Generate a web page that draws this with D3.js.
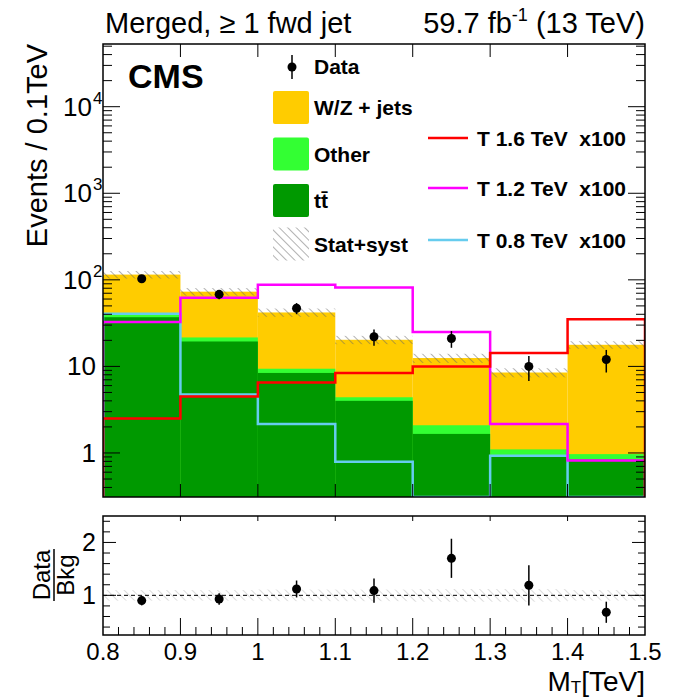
<!DOCTYPE html>
<html>
<head>
<meta charset="utf-8">
<script src="https://cdn.jsdelivr.net/npm/d3@7"></script>
<style>
  html, body { margin: 0; padding: 0; background: #fff; }
  svg { display: block; font-family: "Liberation Sans", Arial, Helvetica, sans-serif; }
  .pre { white-space: pre; }
</style>
</head>
<body>
<svg id="chart" width="675" height="697"></svg>
<script>
// ---- Binned M_T distribution (events per 0.1 TeV) ----
const binEdges   = [0.8, 0.9, 1.0, 1.1, 1.2, 1.3, 1.4, 1.5];
const ttbar      = [37, 19.4, 8.4, 4.0, 1.66, 0.92, 0.84];
const other      = [4.0, 2.2, 1.0, 0.4, 0.43, 0.18, 0.13];
const wzJets     = [74, 51.4, 32.6, 15.9, 10.4, 7.4, 16.8];
const bkgRelUnc  = [0.10, 0.10, 0.11, 0.11, 0.12, 0.12, 0.10];
const dataCounts = [103, 68, 47, 22, 21, 10, 12];
const dataErr    = [10.1, 8.2, 6.9, 4.7, 4.6, 3.2, 3.5];
// Signal templates, scaled x100
const sigT16 = [2.5, 4.5, 6.5, 8.4, 10, 14.3, 35];
const sigT12 = [32.5, 62, 87.5, 81.6, 24.9, 2.16, 0.82];
const sigT08 = [40.5, 4.75, 2.16, 0.79, 0.2, 0.93, 0.2];
// Data / background
const ratioVals = [0.90, 0.93, 1.12, 1.09, 1.70, 1.19, 0.68];
const ratioErr  = [0.09, 0.11, 0.16, 0.23, 0.37, 0.38, 0.20];

const xTicks = [0.8, 0.9, 1.0, 1.1, 1.2, 1.3, 1.4, 1.5];
const xTickLabels = ["0.8", "0.9", "1", "1.1", "1.2", "1.3", "1.4", "1.5"];
const yDecades = [1, 10, 100, 1000, 10000];
const ratioTicks = [1, 2];

const colors = { wz: "#ffcc00", other: "#33ff33", tt: "#009900",
                 t16: "#ff0000", t12: "#ff00ff", t08: "#66ccee" };

const svg = d3.select("#chart");
const L = 103, R = 645, T = 44, B = 497, RT = 516, RB = 635;

const x  = d3.scaleLinear().domain([0.8, 1.5]).range([L, R]);
const y  = d3.scaleLog().domain([0.31, 53000]).range([B, T]);
const yr = d3.scaleLinear().domain([0.25, 2.5]).range([RB, RT]);
const yc = v => Math.max(T, Math.min(B, y(Math.max(v, 1e-3))));

// hatch patterns
const defs = svg.append("defs");
function hatch(id, color, w) {
  const p = defs.append("pattern").attr("id", id).attr("patternUnits", "userSpaceOnUse")
    .attr("width", 6).attr("height", 6).attr("patternTransform", "rotate(-45)");
  p.append("line").attr("x1", 0).attr("y1", 0).attr("x2", 0).attr("y2", 6)
    .attr("stroke", color).attr("stroke-width", w);
}
hatch("hatchMain", "#666", 1);
hatch("hatchRatio", "#bbb", 1);
defs.append("clipPath").attr("id", "clipMain").append("rect")
  .attr("x", L).attr("y", T).attr("width", R - L).attr("height", B - T);
defs.append("clipPath").attr("id", "clipRatio").append("rect")
  .attr("x", L).attr("y", RT).attr("width", R - L).attr("height", RB - RT);

const bins = d3.range(binEdges.length - 1).map(i => {
  const tt = ttbar[i], ot = tt + other[i], tot = ot + wzJets[i];
  return { i, x0: binEdges[i], x1: binEdges[i + 1], tt, ot, tot };
});

// ---- main panel ----
const main = svg.append("g").attr("clip-path", "url(#clipMain)");
const layers = [["tot", colors.wz], ["ot", colors.other], ["tt", colors.tt]];
layers.forEach(([k, c]) => {
  main.selectAll(null).data(bins).join("rect")
    .attr("x", d => x(d.x0)).attr("width", d => x(d.x1) - x(d.x0))
    .attr("y", d => yc(d[k])).attr("height", d => B - yc(d[k]))
    .attr("fill", c);
});
// stat+syst band
main.selectAll(null).data(bins).join("rect")
  .attr("x", d => x(d.x0)).attr("width", d => x(d.x1) - x(d.x0))
  .attr("y", d => yc(d.tot * (1 + bkgRelUnc[d.i])))
  .attr("height", d => yc(d.tot * (1 - bkgRelUnc[d.i])) - yc(d.tot * (1 + bkgRelUnc[d.i])))
  .attr("fill", "url(#hatchMain)");

// signal step lines
function stepPath(vals) {
  let p = `M${x(binEdges[0])},${B}`;
  vals.forEach((v, i) => {
    p += `L${x(binEdges[i])},${yc(v)}L${x(binEdges[i + 1])},${yc(v)}`;
  });
  p += `L${x(binEdges[binEdges.length - 1])},${B}`;
  return p;
}
[[sigT08, colors.t08], [sigT12, colors.t12], [sigT16, colors.t16]].forEach(([v, c]) => {
  main.append("path").attr("d", stepPath(v)).attr("fill", "none")
    .attr("stroke", c).attr("stroke-width", 2.5);
});

// data points
const dpts = main.selectAll(null).data(bins).join("g");
dpts.append("line")
  .attr("x1", d => x((d.x0 + d.x1) / 2)).attr("x2", d => x((d.x0 + d.x1) / 2))
  .attr("y1", d => yc(dataCounts[d.i] + dataErr[d.i]))
  .attr("y2", d => yc(dataCounts[d.i] - dataErr[d.i]))
  .attr("stroke", "#000").attr("stroke-width", 1.5);
dpts.append("circle")
  .attr("cx", d => x((d.x0 + d.x1) / 2)).attr("cy", d => yc(dataCounts[d.i]))
  .attr("r", 4.5).attr("fill", "#000");

// main axes ticks
const minorLog = [];
[0.1, 1, 10, 100, 1000, 10000].forEach(dec => {
  for (let m = 2; m <= 9; m++) {
    const v = dec * m;
    if (v > 0.31 && v < 53000) minorLog.push(v);
  }
});
const axG = svg.append("g");
function yTicks(side) {
  const sx = side === "L" ? L : R, dir = side === "L" ? 1 : -1;
  axG.selectAll(null).data(yDecades).join("line")
    .attr("x1", sx).attr("x2", sx + dir * 17)
    .attr("y1", d => y(d)).attr("y2", d => y(d))
    .attr("stroke", "#000").attr("stroke-width", 1);
  axG.selectAll(null).data(minorLog).join("line")
    .attr("x1", sx).attr("x2", sx + dir * 9)
    .attr("y1", d => y(d)).attr("y2", d => y(d))
    .attr("stroke", "#000").attr("stroke-width", 1);
}
yTicks("L"); yTicks("R");
axG.selectAll(null).data(xTicks.slice(1, -1)).join("line")
  .attr("x1", d => x(d)).attr("x2", d => x(d)).attr("y1", B).attr("y2", B - 13)
  .attr("stroke", "#000").attr("stroke-width", 1);
axG.selectAll(null).data(xTicks.slice(1, -1)).join("line")
  .attr("x1", d => x(d)).attr("x2", d => x(d)).attr("y1", T).attr("y2", T + 13)
  .attr("stroke", "#000").attr("stroke-width", 1);

// y labels
const yl = svg.append("g").attr("font-size", 26).attr("text-anchor", "end");
yDecades.forEach(d => {
  if (d < 100) {
    yl.append("text").attr("x", 96).attr("y", y(d) + 9).text(d === 1 ? "1" : "10");
  } else {
    yl.append("text").attr("x", 92).attr("y", y(d) + 9).text("10");
    yl.append("text").attr("x", 93).attr("y", y(d) - 3).attr("font-size", 17)
      .attr("text-anchor", "start").text(String(Math.round(Math.log10(d))));
  }
});

svg.append("rect").attr("x", L).attr("y", T).attr("width", R - L).attr("height", B - T)
  .attr("fill", "none").attr("stroke", "#000").attr("stroke-width", 1.5);

// ---- ratio panel ----
const rp = svg.append("g").attr("clip-path", "url(#clipRatio)");
rp.selectAll(null).data(bins).join("rect")
  .attr("x", d => x(d.x0)).attr("width", d => x(d.x1) - x(d.x0))
  .attr("y", d => yr(1 + bkgRelUnc[d.i])).attr("height", d => yr(1 - bkgRelUnc[d.i]) - yr(1 + bkgRelUnc[d.i]))
  .attr("fill", "url(#hatchRatio)");
rp.append("line").attr("x1", L).attr("x2", R).attr("y1", yr(1)).attr("y2", yr(1))
  .attr("stroke", "#000").attr("stroke-width", 1).attr("stroke-dasharray", "4,3");
const rpts = rp.selectAll(null).data(bins).join("g");
rpts.append("line")
  .attr("x1", d => x((d.x0 + d.x1) / 2)).attr("x2", d => x((d.x0 + d.x1) / 2))
  .attr("y1", d => yr(ratioVals[d.i] + ratioErr[d.i])).attr("y2", d => yr(ratioVals[d.i] - ratioErr[d.i]))
  .attr("stroke", "#000").attr("stroke-width", 1.5);
rpts.append("circle")
  .attr("cx", d => x((d.x0 + d.x1) / 2)).attr("cy", d => yr(ratioVals[d.i]))
  .attr("r", 4.5).attr("fill", "#000");

const ratioMinor = d3.range(0.4, 2.45, 0.2).filter(v => Math.abs(v - 1) > 0.01 && Math.abs(v - 2) > 0.01);
[[L, 1], [R, -1]].forEach(([sx, dir]) => {
  axG.selectAll(null).data(ratioTicks).join("line")
    .attr("x1", sx).attr("x2", sx + dir * 13).attr("y1", d => yr(d)).attr("y2", d => yr(d))
    .attr("stroke", "#000");
  axG.selectAll(null).data(ratioMinor).join("line")
    .attr("x1", sx).attr("x2", sx + dir * 7).attr("y1", d => yr(d)).attr("y2", d => yr(d))
    .attr("stroke", "#000");
});
const xMinor = d3.range(0.82, 1.5, 0.02).filter(v => Math.abs(v * 10 - Math.round(v * 10)) > 0.01);
axG.selectAll(null).data(xTicks.slice(1, -1)).join("line")
  .attr("x1", d => x(d)).attr("x2", d => x(d)).attr("y1", RB).attr("y2", RB - 17).attr("stroke", "#000");
axG.selectAll(null).data(xMinor).join("line")
  .attr("x1", d => x(d)).attr("x2", d => x(d)).attr("y1", RB).attr("y2", RB - 8).attr("stroke", "#000");
axG.selectAll(null).data(xTicks.slice(1, -1)).join("line")
  .attr("x1", d => x(d)).attr("x2", d => x(d)).attr("y1", RT).attr("y2", RT + 5).attr("stroke", "#000");

svg.append("rect").attr("x", L).attr("y", RT).attr("width", R - L).attr("height", RB - RT)
  .attr("fill", "none").attr("stroke", "#000").attr("stroke-width", 1.5);

svg.append("g").attr("font-size", 25).attr("text-anchor", "end")
  .selectAll(null).data(ratioTicks).join("text")
  .attr("x", 96).attr("y", d => yr(d) + 9).text(d => d);
svg.append("g").attr("font-size", 24).attr("text-anchor", "middle")
  .selectAll(null).data(xTicks).join("text")
  .attr("x", d => x(d)).attr("y", 660).text((d, i) => xTickLabels[i]);

// axis titles
const xt = svg.append("text").attr("x", R).attr("y", 691).attr("text-anchor", "end").attr("font-size", 28);
xt.append("tspan").text("M");
xt.append("tspan").attr("font-size", 17).attr("dy", 2).text("T");
xt.append("tspan").attr("dy", -2).text("[TeV]");

svg.append("text").attr("transform", "translate(47,44) rotate(-90)")
  .attr("text-anchor", "end").attr("font-size", 29).text("Events / 0.1TeV");

const rl = svg.append("g").attr("transform", "translate(0,575) rotate(-90)").attr("font-size", 24)
  .attr("text-anchor", "middle");
rl.append("text").attr("x", 0).attr("y", 50).text("Data");
rl.append("line").attr("x1", -26).attr("x2", 26).attr("y1", 54).attr("y2", 54).attr("stroke", "#000").attr("stroke-width", 1.5);
rl.append("text").attr("x", 0).attr("y", 74).text("Bkg");

// header
svg.append("text").attr("x", L + 2).attr("y", 33).attr("font-size", 29).text("Merged, \u2265 1 fwd jet");
const lum = svg.append("text").attr("x", R).attr("y", 33).attr("font-size", 29).attr("text-anchor", "end");
lum.append("tspan").text("59.7 fb");
lum.append("tspan").attr("font-size", 18).attr("dy", -12).text("-1");
lum.append("tspan").attr("dy", 12).text(" (13 TeV)");
svg.append("text").attr("x", 128).attr("y", 88).attr("font-size", 34).attr("font-weight", "bold").text("CMS");

// legend
const lg = svg.append("g").attr("font-size", 21).attr("font-weight", "bold");
lg.append("line").attr("x1", 292).attr("x2", 292).attr("y1", 55).attr("y2", 79).attr("stroke", "#000").attr("stroke-width", 1.5);
lg.append("circle").attr("cx", 292).attr("cy", 67).attr("r", 4.5).attr("fill", "#000");
lg.append("text").attr("x", 314).attr("y", 74).text("Data");
const boxes = [
  { label: "W/Z + jets", fill: colors.wz, cy: 107.5 },
  { label: "Other", fill: colors.other, cy: 154 },
  { label: "tt\u0304", fill: colors.tt, cy: 200.5 },
  { label: "Stat+syst", fill: "url(#hatchMain)", cy: 244 }
];
boxes.forEach(b => {
  lg.append("rect").attr("x", 273).attr("y", b.cy - 16.5).attr("width", 36).attr("height", 33)
    .attr("rx", 2).attr("fill", b.fill);
  lg.append("text").attr("x", 314).attr("y", b.cy + 7.5).text(b.label);
});
const sigLeg = [
  { label: "T 1.6 TeV  x100", c: colors.t16, cy: 138 },
  { label: "T 1.2 TeV  x100", c: colors.t12, cy: 188 },
  { label: "T 0.8 TeV  x100", c: colors.t08, cy: 240 }
];
sigLeg.forEach(s => {
  lg.append("line").attr("x1", 428).attr("x2", 468).attr("y1", s.cy).attr("y2", s.cy)
    .attr("stroke", s.c).attr("stroke-width", 2.5);
  lg.append("text").attr("class", "pre").attr("x", 477).attr("y", s.cy + 7.5).text(s.label);
});
</script>
</body>
</html>
